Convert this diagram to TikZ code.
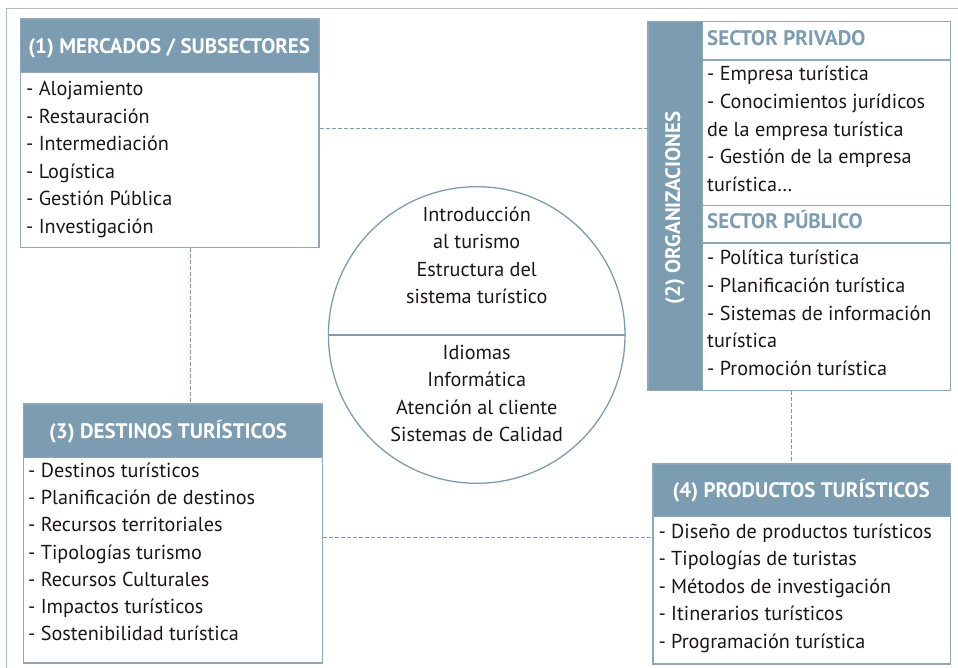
\documentclass[tikz,border=0pt]{standalone}
\usepackage{fontspec}
\setmainfont{PT Sans}
\definecolor{hdr}{HTML}{7B9CB1}
\definecolor{edge}{HTML}{8EA8BA}
\definecolor{framec}{HTML}{A8BDCA}
\definecolor{ink}{HTML}{1A1718}
\tikzset{
 hdrbox/.style={fill=hdr, draw=edge, line width=1.3pt, inner sep=0, anchor=north west},
 bodybox/.style={draw=edge, fill=white, line width=1.3pt, inner sep=0, anchor=north west},
 item/.style={anchor=base west, inner sep=0, font=\fontsize{20.2}{24}\selectfont, text=ink},
 ctext/.style={anchor=base, inner sep=0, font=\fontsize{20.2}{24}\selectfont, text=ink},
 hdrtext/.style={anchor=base, inner sep=0, font=\fontsize{21}{25}\selectfont\bfseries, text=white},
 subtext/.style={anchor=base west, inner sep=0, font=\fontsize{21}{25}\selectfont\bfseries, text=hdr},
 link/.style={draw=hdr, line width=1pt, dash pattern=on 4pt off 2pt},
}
\begin{document}
\begin{tikzpicture}[x=1pt,y=-1pt]
\useasboundingbox (0,0) rectangle (958,668);
\draw[framec, line width=1.3pt] (6.7,668) -- (6.7,8.3) -- (958,8.3);

% Box 1
\node[hdrbox, minimum width=298.3pt, minimum height=53.4pt] (h1) at (20,18.3) {};
\node[bodybox, minimum width=298.3pt, minimum height=175pt] (b1) at (20,71.7) {};
\node[hdrtext] (t1) at (169.2,54) {(1) MERCADOS / SUBSECTORES};
\foreach \t [count=\i from 0] in {- Alojamiento,- Restauración,- Intermediación,- Logística,- Gestión Pública,- Investigación}
  \node[item] (a\i) at (26,{96+27.5*\i}) {\t};

% Box 2
\node[hdrbox, minimum width=54.4pt, minimum height=369.3pt] (bar) at (647.3,20.7) {};
\node[bodybox, minimum width=248.3pt, minimum height=38.6pt] (privh) at (701.7,20.7) {};
\node[bodybox, minimum width=248.3pt, minimum height=145.7pt] (privb) at (701.7,59.3) {};
\node[bodybox, minimum width=248.3pt, minimum height=37.3pt] (pubh) at (701.7,205) {};
\node[bodybox, minimum width=248.3pt, minimum height=147.7pt] (pubb) at (701.7,242.3) {};
\node[hdrtext, anchor=center, rotate=90] (t2) at (675,208) {(2) ORGANIZACIONES};
\node[subtext] (sp1) at (707,45.5) {SECTOR PRIVADO};
\node[subtext] (sp2) at (707,229) {SECTOR PÚBLICO};
\foreach \t [count=\i from 0] in {- Empresa turística,- Conocimientos jurídicos,de la empresa turística,- Gestión de la empresa,turística\ldots}
  \node[item] (p\i) at (707,{81+27.6*\i}) {\t};
\foreach \t [count=\i from 0] in {- Política turística,- Planificación turística,- Sistemas de información,turística,- Promoción turística}
  \node[item] (q\i) at (707,{265+27.5*\i}) {\t};

% Box 3
\node[hdrbox, minimum width=299pt, minimum height=53.4pt] (h3) at (22.7,403.3) {};
\node[bodybox, minimum width=299pt, minimum height=205.5pt] (b3) at (22.7,456.7) {};
\node[hdrtext] (t3) at (168,438.5) {(3) DESTINOS TURÍSTICOS};
\foreach \t [count=\i from 0] in {- Destinos turísticos,- Planificación de destinos,- Recursos territoriales,- Tipologías turismo,- Recursos Culturales,- Impactos turísticos,- Sostenibilidad turística}
  \node[item] (d\i) at (28,{477.3+27.25*\i}) {\t};

% Box 4
\node[hdrbox, minimum width=297.7pt, minimum height=52.7pt] (h4) at (652.3,463.3) {};
\node[bodybox, minimum width=297.7pt, minimum height=147.3pt] (b4) at (652.3,516) {};
\node[hdrtext] (t4) at (801.2,497) {(4) PRODUCTOS TURÍSTICOS};
\foreach \t [count=\i from 0] in {- Diseño de productos turísticos,- Tipologías de turistas,- Métodos de investigación,- Itinerarios turísticos,- Programación turística}
  \node[item] (r\i) at (658.3,{538.3+27.5*\i}) {\t};

% Circle
\node[circle, draw=hdr, line width=1.3pt, minimum size=296.6pt, inner sep=0] (c) at (476.7,335) {};
\draw[hdr, line width=2.6pt] (c.west) -- (c.east);
\foreach \t [count=\i from 0] in {Introducción,al turismo,Estructura del,sistema turístico}
  \node[ctext] (u\i) at (476.7,{221.7+27.2*\i}) {\t};
\foreach \t [count=\i from 0] in {Idiomas,Informática,Atención al cliente,Sistemas de Calidad}
  \node[ctext] (l\i) at (476.7,{359.3+27.5*\i}) {\t};

% Links
\draw[link] (b1.east |- 0,128.3) -- (bar.west |- 0,128.3);
\draw[link] (b1.south -| 190,0) -- (h3.north -| 190,0);
\draw[link] (pubb.south -| 791.7,0) -- (h4.north -| 791.7,0);
\draw[link] (b3.east |- 0,537) -- (b4.west |- 0,537);
\end{tikzpicture}
\end{document}
